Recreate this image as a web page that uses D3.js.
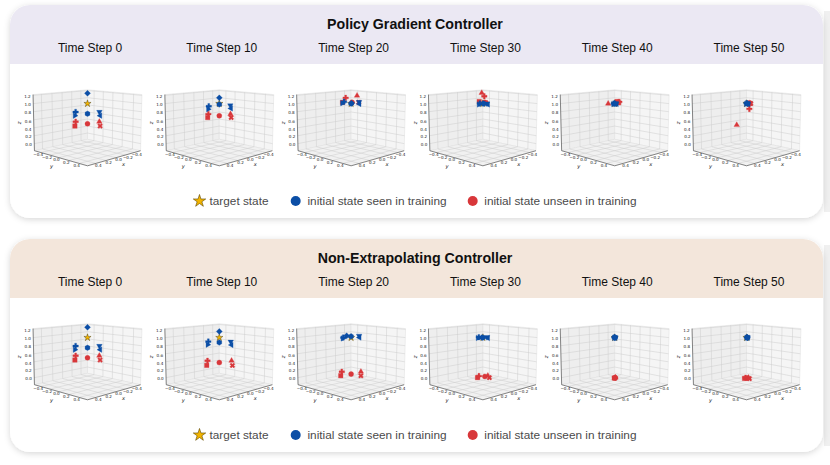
<!DOCTYPE html>
<html>
<head>
<meta charset="utf-8">
<script src="https://cdn.jsdelivr.net/npm/d3@7"></script>
<style>
  body { margin: 0; background: #fff; }
  svg { display: block; }
</style>
</head>
<body>
<div id="chart"></div>
<script>
// ---- data -------------------------------------------------------------
const timeSteps = [0, 10, 20, 30, 40, 50];
const xyTicks = [-0.4, -0.2, 0.0, 0.2, 0.4];
const zTicks = [0.0, 0.2, 0.4, 0.6, 0.8, 1.0, 1.2];
const targetState = [0, 0, 1.0];

// one marker per initial state (trajectory)
const markerShapes = ["D", "P", ">", "v", "<", "h", "P", "s", "o", "^", "X"];
const seenInTraining = [1, 1, 1, 1, 1, 1, 0, 0, 0, 0, 0];

// shared initial states (time step 0), [x, y, z]
const initialStates = [
  [0, 0, 1.25], [0, -0.25, 0.75], [0.25, 0, 0.75], [-0.25, 0, 0.75], [0, 0.25, 0.75], [0, 0, 0.75],
  [0, -0.25, 0.5], [0.25, 0, 0.5], [0, 0, 0.5], [-0.25, 0, 0.5], [0, 0.25, 0.5]
];

// policy gradient controller, time steps 10..50
const pgStep10 = [
  [0, 0, 1.14], [0, -0.22, 0.9], [0.22, 0, 0.9], [-0.23, 0, 0.92], [0, 0.23, 0.92], [0, 0, 0.98],
  [0, -0.23, 0.7], [0.23, 0, 0.7], [0, 0, 0.7], [-0.235, 0, 0.7], [0, 0.235, 0.7]
];
const pgStep20 = [
  [-0.006, 0.006, 1.01], [0.072, -0.072, 1.045], [0.09, -0.09, 1.01], [-0.081, 0.081, 1.04], [-0.084, 0.084, 0.99], [0, 0, 1.0],
  [0.055, -0.055, 1.14], [0.087, -0.087, 1.03], [-0.01, 0.01, 1.03], [-0.06, 0.06, 1.195], [-0.077, 0.077, 1.03]
];
const pgStep30 = [
  [0, 0, 1.0], [0.031, -0.031, 1.0], [0.041, -0.041, 0.98], [-0.041, 0.041, 1.0], [-0.051, 0.051, 0.98], [-0.01, 0.01, 1.0],
  [-0.014, 0.014, 1.18], [0.037, -0.037, 1.05], [-0.02, 0.02, 1.03], [0.012, -0.012, 1.26], [-0.031, 0.031, 1.02]
];
const pgStep40 = [
  [0, 0, 1.0], [0.01, -0.01, 1.0], [0.015, -0.015, 0.99], [-0.015, 0.015, 1.0], [-0.02, 0.02, 0.99], [-0.005, 0.005, 1.0],
  [-0.047, 0.047, 1.04], [-0.024, 0.024, 1.05], [-0.031, 0.031, 1.03], [0.066, -0.066, 1.0], [-0.041, 0.041, 1.02]
];
const pgStep50 = [
  [-0.008, 0.008, 1.0], [0, 0, 1.01], [0.005, -0.005, 0.99], [-0.015, 0.015, 1.0], [-0.02, 0.02, 0.99], [-0.01, 0.01, 1.0],
  [-0.029, 0.029, 0.87], [-0.036, 0.036, 1.0], [-0.031, 0.031, 1.02], [0.1, -0.1, 0.47], [-0.043, 0.043, 1.0]
];

// non-extrapolating controller, time steps 10..50
const neStep10 = [
  [0, 0, 1.15], [0, -0.23, 0.865], [0.23, 0, 0.865], [-0.24, 0, 0.86], [0, 0.24, 0.86], [0, 0, 0.88],
  [0, -0.25, 0.37], [0.25, 0, 0.37], [0, 0, 0.38], [-0.26, 0, 0.37], [0, 0.26, 0.37]
];
const neStep20 = [
  [0.045, -0.045, 1.045], [0.08, -0.08, 1.0], [0.085, -0.085, 0.98], [-0.081, 0.081, 1.045], [-0.085, 0.085, 1.0], [0, 0, 1.03],
  [0.096, -0.096, 0.15], [0.107, -0.107, 0.05], [0, 0, 0.09], [-0.101, 0.101, 0.15], [-0.101, 0.101, 0.05]
];
const neStep30 = [
  [0.01, -0.01, 1.0], [0.041, -0.041, 1.01], [0.051, -0.051, 0.99], [-0.041, 0.041, 1.01], [-0.051, 0.051, 0.99], [0, 0, 1.0],
  [0.041, -0.041, 0.04], [0.056, -0.056, 0.0], [-0.02, 0.02, 0.03], [-0.051, 0.051, 0.05], [-0.067, 0.067, 0.0]
];
const neStep40 = [
  [0, 0, 1.0], [0.003, -0.003, 1.005], [0.006, -0.006, 0.995], [-0.006, 0.006, 1.005], [-0.008, 0.008, 0.995], [-0.003, 0.003, 1.0],
  [-0.003, 0.003, 0.0], [0.004, -0.004, -0.01], [-0.005, 0.005, 0.0], [-0.008, 0.008, 0.005], [0, 0, -0.01]
];
const neStep50 = [
  [-0.008, 0.008, 1.0], [-0.005, 0.005, 1.005], [0, 0, 0.995], [-0.012, 0.012, 1.005], [-0.015, 0.015, 0.995], [-0.01, 0.01, 1.0],
  [0.01, -0.01, 0.0], [0.02, -0.02, -0.02], [-0.008, 0.008, -0.01], [-0.02, 0.02, 0.0], [-0.03, 0.03, -0.025]
];

const pgStates = [initialStates, pgStep10, pgStep20, pgStep30, pgStep40, pgStep50];
const neStates = [initialStates, neStep10, neStep20, neStep30, neStep40, neStep50];

const panelTitles = ["Policy Gradient Controller", "Non-Extrapolating Controller"];
const legendLabels = ["target state", "initial state seen in training", "initial state unseen in training"];

// ---- layout / style ---------------------------------------------------
const width = 830, height = 465;
const blue = "#0b4ea6", red = "#d8373a", gold = "#f2b400";

const panels = [
  { title: panelTitles[0], header: "#ebe8f3", top: 5, states: pgStates },
  { title: panelTitles[1], header: "#f3e6db", top: 239, states: neStates }
];

const svg = d3.select("#chart")
  .append("svg")
  .attr("width", width)
  .attr("height", height)
  .style("font-family", "'Liberation Sans', Arial, Helvetica, sans-serif");

const defs = svg.append("defs");
defs.append("filter")
  .attr("id", "shadow")
  .attr("x", "-5%").attr("y", "-10%").attr("width", "110%").attr("height", "120%")
  .append("feDropShadow")
  .attr("dx", 0).attr("dy", 1.5)
  .attr("stdDeviation", 3)
  .attr("flood-color", "#000")
  .attr("flood-opacity", 0.16);

// column centres of the 3D subplots
const colX = d3.scalePoint().domain(timeSteps).range([87.5, 746.5]);

// 3D -> 2D projection (matplotlib-like view: elev 10, azim 45, perspective)
const elev = 10 * Math.PI / 180, azim = 45 * Math.PI / 180;
const camDist = 10, boxScale = 38;
const ce = Math.cos(elev), se = Math.sin(elev), ca = Math.cos(azim), sa = Math.sin(azim);
const xNorm = d3.scaleLinear().domain([-0.55, 0.55]).range([-1, 1]);
const yNorm = d3.scaleLinear().domain([-0.55, 0.55]).range([-1, 1]);
const zNorm = d3.scaleLinear().domain([-0.18, 1.22]).range([-0.75, 0.75]);

function project(X, Y, Z) {
  const sx = -sa * X + ca * Y;
  const sy = -se * ca * X - se * sa * Y + ce * Z;
  const d = ce * ca * X + ce * sa * Y + se * Z;
  const f = camDist / (camDist - d);
  return [boxScale * f * sx, -boxScale * f * sy];
}
const proj = (x, y, z) => project(xNorm(x), yNorm(y), zNorm(z));

const line = d3.line();
const tickFmt = d => d3.format(".1f")(d).replace("-", "\u2212");

// marker paths
function polygon(n, rad, rot) {
  const pts = d3.range(n).map(i => {
    const a = rot + 2 * Math.PI * i / n;
    return [rad * Math.sin(a), -rad * Math.cos(a)];
  });
  return line(pts) + "Z";
}
function markerPath(shape) {
  switch (shape) {
    case "o": return d3.symbol(d3.symbolCircle, 20)();
    case "s": return d3.symbol(d3.symbolSquare, 20)();
    case "D": return polygon(4, 3.0, 0);
    case "^": return polygon(3, 3.2, 0);
    case "v": return polygon(3, 3.2, Math.PI);
    case ">": return polygon(3, 3.2, Math.PI / 2);
    case "<": return polygon(3, 3.2, -Math.PI / 2);
    case "h": return polygon(6, 2.8, 0);
    case "P": return d3.symbol(d3.symbolCross, 17)();
    case "X": return d3.symbol(d3.symbolCross, 16)();
    default: return d3.symbol(d3.symbolCircle, 20)();
  }
}

function drawSubplot(g, states) {
  const L = -0.75, H = 0.75;
  const P = (X, Y, Z) => project(X, Y, Z);

  // panes
  const panes = [
    { pts: [[1, -1, L], [-1, -1, L], [-1, -1, H], [1, -1, H]], fill: "#eeeeee" },  // left wall (y = min)
    { pts: [[-1, -1, L], [-1, 1, L], [-1, 1, H], [-1, -1, H]], fill: "#f5f5f5" },  // right wall (x = min)
    { pts: [[1, -1, L], [1, 1, L], [-1, 1, L], [-1, -1, L]], fill: "#f1f1f1" }     // floor
  ];
  g.selectAll("path.pane")
    .data(panes)
    .enter().append("path")
    .attr("class", "pane")
    .attr("d", d => line(d.pts.map(p => P(...p))) + "Z")
    .attr("fill", d => d.fill)
    .attr("stroke", "#dedede")
    .attr("stroke-width", 0.5);

  // grid lines
  const grid = [];
  xyTicks.forEach(t => {
    const X = xNorm(t), Y = yNorm(t);
    grid.push([[X, -1, L], [X, -1, H]]);   // left wall verticals
    grid.push([[-1, Y, L], [-1, Y, H]]);   // right wall verticals
    grid.push([[X, -1, L], [X, 1, L]]);    // floor
    grid.push([[-1, Y, L], [1, Y, L]]);    // floor
  });
  zTicks.forEach(t => {
    const Z = zNorm(t);
    grid.push([[1, -1, Z], [-1, -1, Z]]);
    grid.push([[-1, -1, Z], [-1, 1, Z]]);
  });
  g.selectAll("path.grid")
    .data(grid)
    .enter().append("path")
    .attr("class", "grid")
    .attr("d", d => line(d.map(p => P(...p))))
    .attr("fill", "none")
    .attr("stroke", "#cdcdcd")
    .attr("stroke-width", 0.5);

  // axis lines
  const axes = [
    [[1, -1, L], [1, 1, L]],   // y
    [[1, 1, L], [-1, 1, L]],   // x
    [[1, -1, L], [1, -1, H]]   // z
  ];
  g.selectAll("path.axis")
    .data(axes)
    .enter().append("path")
    .attr("class", "axis")
    .attr("d", d => line(d.map(p => P(...p))))
    .attr("fill", "none")
    .attr("stroke", "#3c3c3c")
    .attr("stroke-width", 0.6);

  const tickStyle = sel => sel
    .attr("font-family", "'DejaVu Sans', sans-serif")
    .attr("font-size", 4.1)
    .attr("fill", "#1a1a1a");

  // z tick labels
  g.selectAll("text.zt")
    .data(zTicks)
    .enter().append("text")
    .attr("class", "zt")
    .attr("x", d => P(1, -1, zNorm(d))[0] - 2.4)
    .attr("y", d => P(1, -1, zNorm(d))[1] + 2.7)
    .attr("text-anchor", "end")
    .text(tickFmt)
    .call(tickStyle);

  // y tick labels (left floor edge)
  g.selectAll("text.yt")
    .data(xyTicks)
    .enter().append("text")
    .attr("class", "yt")
    .attr("x", d => P(1, yNorm(d), L)[0] - 2.6)
    .attr("y", d => P(1, yNorm(d), L)[1] + 3.8)
    .attr("text-anchor", "middle")
    .text(tickFmt)
    .call(tickStyle);

  // x tick labels (right floor edge)
  g.selectAll("text.xt")
    .data(xyTicks)
    .enter().append("text")
    .attr("class", "xt")
    .attr("x", d => P(xNorm(d), 1, L)[0] + 2.6)
    .attr("y", d => P(xNorm(d), 1, L)[1] + 3.8)
    .attr("text-anchor", "middle")
    .text(tickFmt)
    .call(tickStyle);

  // axis labels
  const yl = P(1, 0, L), xl = P(0, 1, L), zl = P(1, -1, 0);
  g.append("text").attr("x", yl[0] - 7.5).attr("y", yl[1] + 10.5).attr("text-anchor", "middle")
    .attr("font-style", "italic").text("y").call(tickStyle).attr("font-size", 5.2);
  g.append("text").attr("x", xl[0] + 7.5).attr("y", xl[1] + 8).attr("text-anchor", "middle")
    .attr("font-style", "italic").text("x").call(tickStyle).attr("font-size", 5.2);
  g.append("text").attr("transform", `translate(${zl[0] - 14},${zl[1]}) rotate(-90)`)
    .attr("text-anchor", "middle").attr("dy", 1.5)
    .attr("font-style", "italic").text("z").call(tickStyle).attr("font-size", 5.2);

  // target star
  const ts = proj(...targetState);
  g.append("path")
    .attr("d", d3.symbol(d3.symbolStar, 16)())
    .attr("transform", `translate(${ts[0]},${ts[1]})`)
    .attr("fill", gold)
    .attr("stroke", "#3a2e00")
    .attr("stroke-width", 0.4);

  // states: unseen (red) first, then seen (blue)
  const pts = states.map((s, i) => ({ s, shape: markerShapes[i], seen: seenInTraining[i] }))
    .sort((a, b) => a.seen - b.seen);
  g.selectAll("path.state")
    .data(pts)
    .enter().append("path")
    .attr("class", "state")
    .attr("d", d => markerPath(d.shape))
    .attr("transform", d => {
      const p = proj(...d.s);
      return `translate(${p[0]},${p[1]})` + (d.shape === "X" ? " rotate(45)" : "");
    })
    .attr("fill", d => d.seen ? blue : red)
    .attr("stroke", d => d.seen ? blue : red)
    .attr("stroke-width", 0.3);
}

panels.forEach(panel => {
  const top = panel.top;
  const clipId = "clip" + top;
  defs.append("clipPath").attr("id", clipId)
    .append("rect")
    .attr("x", 10).attr("y", top).attr("width", 813).attr("height", 213).attr("rx", 20);

  // faint strip along the right border
  svg.append("rect")
    .attr("x", 824).attr("y", top + 6).attr("width", 6).attr("height", 201)
    .attr("fill", "#f0f0f0");

  svg.append("rect")
    .attr("x", 10).attr("y", top).attr("width", 813).attr("height", 213).attr("rx", 20)
    .attr("fill", "#fff")
    .attr("filter", "url(#shadow)");

  svg.append("rect")
    .attr("x", 10).attr("y", top).attr("width", 813).attr("height", 59)
    .attr("clip-path", `url(#${clipId})`)
    .attr("fill", panel.header);

  svg.append("text")
    .attr("x", 415).attr("y", top + 24)
    .attr("text-anchor", "middle")
    .attr("font-size", 14.2).attr("font-weight", "bold")
    .attr("fill", "#111")
    .text(panel.title);

  svg.selectAll(null)
    .data(timeSteps)
    .enter().append("text")
    .attr("x", d => colX(d) + 2.5)
    .attr("y", top + 47)
    .attr("text-anchor", "middle")
    .attr("font-size", 12)
    .attr("fill", "#111")
    .text(d => "Time Step " + d);

  timeSteps.forEach((t, i) => {
    const g = svg.append("g").attr("transform", `translate(${colX(t)},${top + 118})`);
    drawSubplot(g, panel.states[i]);
  });

  // legend
  const ly = top + 196;
  const lg = svg.append("g").attr("font-size", 11.8).attr("fill", "#4a4a4a");
  lg.append("path")
    .attr("d", d3.symbol(d3.symbolStar, 48)())
    .attr("transform", `translate(199.5,${ly})`)
    .attr("fill", gold).attr("stroke", "#5c4600").attr("stroke-width", 0.6);
  lg.append("text").attr("x", 209.5).attr("y", ly + 4).text(legendLabels[0]);
  lg.append("circle").attr("cx", 295.7).attr("cy", ly).attr("r", 5).attr("fill", blue);
  lg.append("text").attr("x", 307.5).attr("y", ly + 4).text(legendLabels[1]);
  lg.append("circle").attr("cx", 472.7).attr("cy", ly).attr("r", 5).attr("fill", red);
  lg.append("text").attr("x", 484.3).attr("y", ly + 4).text(legendLabels[2]);
});
</script>
</body>
</html>
